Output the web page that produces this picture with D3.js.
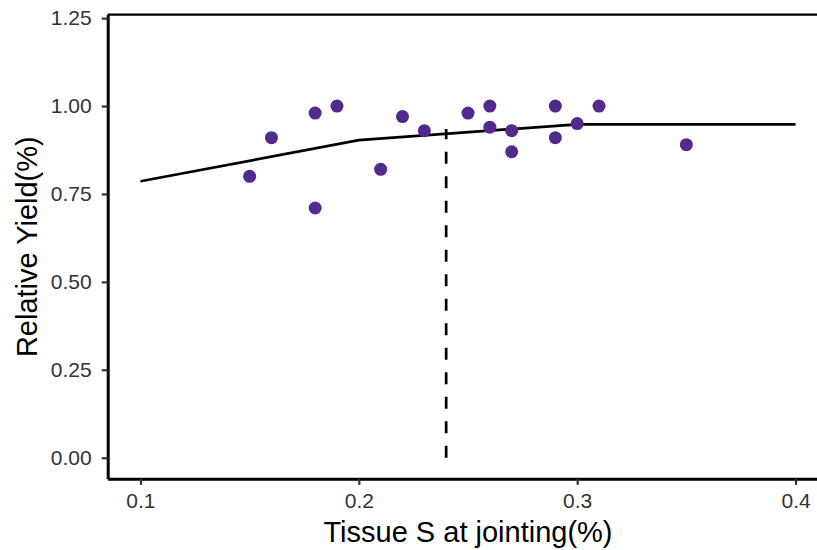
<!DOCTYPE html>
<html>
<head>
<meta charset="utf-8">
<script src="https://cdn.jsdelivr.net/npm/d3@7"></script>
<style>
  body { margin: 0; background: #fff; }
  svg { display: block; font-family: "Liberation Sans", Arial, sans-serif; }
</style>
</head>
<body>
<svg></svg>
<script>
var width = 817
var height = 550

// observed points
var tissueS = [0.15, 0.16, 0.18, 0.18, 0.19, 0.21, 0.22, 0.23, 0.25, 0.26, 0.26, 0.27, 0.27, 0.29, 0.29, 0.30, 0.31, 0.35]
var relYield = [0.80, 0.91, 0.98, 0.71, 1.00, 0.82, 0.97, 0.93, 0.98, 1.00, 0.94, 0.93, 0.87, 1.00, 0.91, 0.95, 1.00, 0.89]

// fitted response line
var fitX = [0.1, 0.2, 0.3, 0.4]
var fitY = [0.786, 0.903, 0.948, 0.948]

// critical value
var critX = 0.24
var critY = 0.935

var xTicks = [0.1, 0.2, 0.3, 0.4]
var yTicks = [0, 0.25, 0.5, 0.75, 1.0, 1.25]

var padL = 107.7, padR = 828.3, padT = 14.6, padB = 478.8

var x = d3.scaleLinear().domain([0.085, 0.415]).range([padL, padR])
var y = d3.scaleLinear().domain([-0.06, 1.26]).range([padB, padT])

var svg = d3.select("svg")
  .attr("width", width)
  .attr("height", height)

// top border line
svg.append("line")
  .attr("x1", padL).attr("x2", padR)
  .attr("y1", padT).attr("y2", padT)
  .attr("stroke", "#000").attr("stroke-width", 2.4)

var xAxis = d3.axisBottom(x).tickValues(xTicks).tickFormat(d3.format(".1f")).tickSize(6).tickSizeOuter(0).tickPadding(8)
var yAxis = d3.axisLeft(y).tickValues(yTicks).tickFormat(d3.format(".2f")).tickSize(6).tickSizeOuter(0).tickPadding(10)

var gx = svg.append("g")
  .attr("transform", "translate(0," + padB + ")")
  .call(xAxis)
  .attr("font-size", 21)
  .attr("font-family", "Liberation Sans, Arial, sans-serif")
var gy = svg.append("g")
  .attr("transform", "translate(" + padL + ",0)")
  .call(yAxis)
  .attr("font-size", 21)
  .attr("font-family", "Liberation Sans, Arial, sans-serif")

svg.selectAll(".tick text").attr("fill", "#333")
svg.selectAll(".tick line").attr("stroke", "#333").attr("stroke-width", 2.2)
svg.selectAll(".domain").attr("stroke", "#000").attr("stroke-width", 3)

// fitted line
var fit = fitX.map((d, i) => [d, fitY[i]])
svg.append("path")
  .datum(fit)
  .attr("fill", "none")
  .attr("stroke", "#000")
  .attr("stroke-width", 2.7)
  .attr("d", d3.line().x(d => x(d[0])).y(d => y(d[1])))

// critical value dashed line
svg.append("line")
  .attr("x1", x(critX)).attr("x2", x(critX))
  .attr("y1", y(0)).attr("y2", y(critY))
  .attr("stroke", "#000")
  .attr("stroke-width", 2.7)
  .attr("stroke-dasharray", "12,12.5")

// points
svg.append("g")
  .selectAll("circle")
  .data(tissueS)
  .enter()
    .append("circle")
    .attr("cx", d => x(d))
    .attr("cy", (d, i) => y(relYield[i]))
    .attr("r", 6.5)
    .attr("fill", "#53298b")

// axis titles
svg.append("text")
  .attr("x", (padL + padR) / 2)
  .attr("y", 541.5)
  .attr("text-anchor", "middle")
  .attr("font-size", 29)
  .attr("fill", "#000")
  .text("Tissue S at jointing(%)")

svg.append("text")
  .attr("transform", "translate(37," + ((padT + padB) / 2) + ") rotate(-90)")
  .attr("text-anchor", "middle")
  .attr("font-size", 29)
  .attr("fill", "#000")
  .text("Relative Yield(%)")
</script>
</body>
</html>
